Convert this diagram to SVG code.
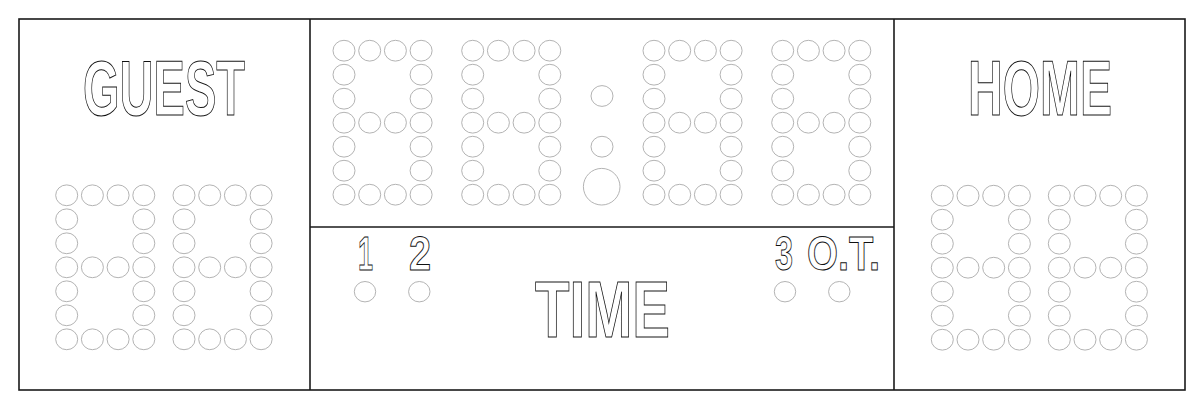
<svg xmlns="http://www.w3.org/2000/svg" xmlns:xlink="http://www.w3.org/1999/xlink" width="1200" height="407" viewBox="0 0 1200 407">
<style>
.frame{fill:none;stroke:#1a1a1a;stroke-width:1.6}
.dot{fill:none;stroke:#aaaaaa;stroke-width:0.9}
.lbl{fill:#ffffff;stroke:#111111;stroke-width:1;font-family:"Liberation Sans",Arial,sans-serif;font-weight:bold}
</style>
<defs>
<ellipse id="d" class="dot" cx="0" cy="0" rx="11" ry="10.4"/>
<g id="eight">
<use xlink:href="#d" x="0" y="0"/><use xlink:href="#d" x="25.7" y="0"/><use xlink:href="#d" x="51.4" y="0"/><use xlink:href="#d" x="77.1" y="0"/>
<use xlink:href="#d" x="0" y="24"/><use xlink:href="#d" x="77.1" y="24"/>
<use xlink:href="#d" x="0" y="48"/><use xlink:href="#d" x="77.1" y="48"/>
<use xlink:href="#d" x="0" y="72"/><use xlink:href="#d" x="25.7" y="72"/><use xlink:href="#d" x="51.4" y="72"/><use xlink:href="#d" x="77.1" y="72"/>
<use xlink:href="#d" x="0" y="96"/><use xlink:href="#d" x="77.1" y="96"/>
<use xlink:href="#d" x="0" y="120"/><use xlink:href="#d" x="77.1" y="120"/>
<use xlink:href="#d" x="0" y="144"/><use xlink:href="#d" x="25.7" y="144"/><use xlink:href="#d" x="51.4" y="144"/><use xlink:href="#d" x="77.1" y="144"/>
</g>
</defs>
<rect x="0" y="0" width="1200" height="407" fill="#ffffff"/>
<g id="frame">
<rect class="frame" x="19" y="19" width="1166" height="371"/>
<line class="frame" x1="310" y1="19" x2="310" y2="390"/>
<line class="frame" x1="894" y1="19" x2="894" y2="390"/>
<line class="frame" x1="310" y1="227" x2="894" y2="227"/>
</g>
<g id="guest">
<text class="lbl" x="83" y="115" font-size="77" textLength="162" lengthAdjust="spacingAndGlyphs">GUEST</text>
<use xlink:href="#eight" x="66.7" y="195.3"/>
<use xlink:href="#eight" x="184" y="195.3"/>
</g>
<g id="clock">
<use xlink:href="#eight" x="344" y="50.7"/>
<use xlink:href="#eight" x="472.7" y="50.7"/>
<ellipse class="dot" cx="602" cy="96" rx="11" ry="10.4"/>
<ellipse class="dot" cx="602" cy="146.7" rx="11" ry="10.4"/>
<circle class="dot" cx="601.7" cy="186.7" r="18.3"/>
<use xlink:href="#eight" x="654" y="50.7"/>
<use xlink:href="#eight" x="782.7" y="50.7"/>
</g>
<g id="period">
<text class="lbl" x="358" y="269.5" font-size="48" textLength="15" lengthAdjust="spacingAndGlyphs">1</text>
<text class="lbl" x="409" y="269.5" font-size="48" textLength="22" lengthAdjust="spacingAndGlyphs">2</text>
<text class="lbl" x="775" y="270" font-size="49" textLength="18" lengthAdjust="spacingAndGlyphs">3</text>
<text class="lbl" x="807" y="270" font-size="49" textLength="73" lengthAdjust="spacingAndGlyphs">O.T.</text>
<ellipse class="dot" cx="365" cy="291.7" rx="10.7" ry="10.2"/>
<ellipse class="dot" cx="419.3" cy="291.7" rx="10.7" ry="10.2"/>
<ellipse class="dot" cx="785" cy="291.7" rx="10.7" ry="10.2"/>
<ellipse class="dot" cx="839.3" cy="291.7" rx="10.7" ry="10.2"/>
<text class="lbl" x="535" y="337" font-size="79" textLength="135" lengthAdjust="spacingAndGlyphs">TIME</text>
</g>
<g id="home">
<text class="lbl" x="968" y="115" font-size="77" textLength="144" lengthAdjust="spacingAndGlyphs">HOME</text>
<use xlink:href="#eight" x="942.3" y="195.7"/>
<use xlink:href="#eight" x="1059.3" y="195.7"/>
</g>
</svg>
